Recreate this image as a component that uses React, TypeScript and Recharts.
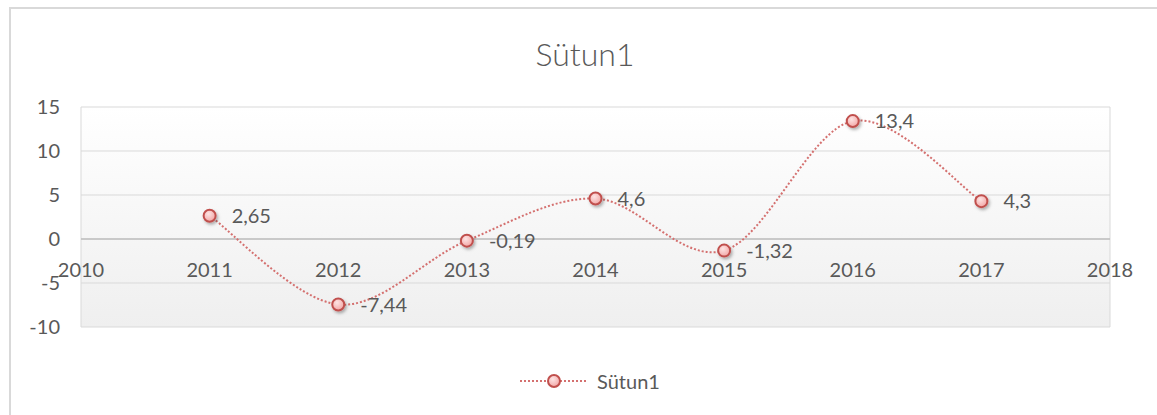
import React from "react";
import {
  CartesianGrid,
  LabelList,
  Line,
  LineChart,
  ReferenceDot,
  ReferenceLine,
  XAxis,
  YAxis,
} from "recharts";

const years = [2011, 2012, 2013, 2014, 2015, 2016, 2017];
const values = [2.65, -7.44, -0.19, 4.6, -1.32, 13.4, 4.3];
const xTicks = [2010, 2011, 2012, 2013, 2014, 2015, 2016, 2017, 2018];
const yTicks = [-10, -5, 0, 5, 10, 15];
const seriesName = "Sütun1";

const data = years.map((year, i) => ({ year, value: values[i] }));

const FONT = "Lato, 'Open Sans', sans-serif";
const TEXT = "#595959";
const LINE_COLOR = "#d4706f";
const MARKER_STROKE = "#c0504d";

// Excel-style smoothing (Catmull-Rom as cubic bezier)
function excelSmooth(context: any) {
  let pts: [number, number][] = [];
  return {
    areaStart() {},
    areaEnd() {},
    lineStart() {
      pts = [];
    },
    point(x: number, y: number) {
      pts.push([+x, +y]);
    },
    lineEnd() {
      if (!pts.length) return;
      context.moveTo(pts[0][0], pts[0][1]);
      for (let i = 0; i < pts.length - 1; i++) {
        const p0 = pts[i - 1] || pts[i];
        const p1 = pts[i];
        const p2 = pts[i + 1];
        const p3 = pts[i + 2] || p2;
        context.bezierCurveTo(
          p1[0] + (p2[0] - p0[0]) / 6,
          p1[1] + (p2[1] - p0[1]) / 6,
          p2[0] - (p3[0] - p1[0]) / 6,
          p2[1] - (p3[1] - p1[1]) / 6,
          p2[0],
          p2[1]
        );
      }
    },
  };
}

function Marker(props: any) {
  const { cx, cy } = props;
  if (cx == null || cy == null) return null;
  return (
    <circle
      cx={cx}
      cy={cy}
      r={6}
      fill="url(#markerFill)"
      stroke={MARKER_STROKE}
      strokeWidth={2}
      filter="url(#markerShadow)"
    />
  );
}

function LegendBox() {
  return (
    <div
      style={{
        position: "absolute",
        left: 0,
        top: 369,
        width: 1178,
        display: "flex",
        justifyContent: "center",
        alignItems: "center",
      }}
    >
      <svg width={72} height={20}>
        <defs>
          <radialGradient id="legendFill" cx="40%" cy="35%" r="70%">
            <stop offset="0%" stopColor="#fde4e4" />
            <stop offset="100%" stopColor="#f2a3a2" />
          </radialGradient>
        </defs>
        <line x1={2} y1={10} x2={70} y2={10} stroke={LINE_COLOR} strokeWidth={2} strokeDasharray="2 2" />
        <circle cx={36} cy={10} r={6} fill="url(#legendFill)" stroke={MARKER_STROKE} strokeWidth={2} />
      </svg>
      <span style={{ fontFamily: FONT, fontSize: 20, color: TEXT, marginLeft: 7 }}>{seriesName}</span>
    </div>
  );
}

const fmt = (v: any) => String(v).replace(".", ",");

export default function App() {
  return (
    <div style={{ position: "fixed", left: 0, top: 0, width: 1157, height: 415, background: "#fff", overflow: "hidden" }}>
      <div
        style={{
          position: "absolute",
          left: 9,
          top: 7,
          width: 1180,
          height: 440,
          border: "2px solid #d9d9d9",
        }}
      />
      <div
        style={{
          position: "absolute",
          left: 0,
          top: 34,
          width: 1170,
          textAlign: "center",
          fontFamily: FONT,
          fontSize: 32,
          fontWeight: 300,
          color: TEXT,
        }}
      >
        {seriesName}
      </div>
      <div style={{ position: "absolute", left: 0, top: 0 }}>
        <LineChart width={1157} height={415} data={data} margin={{ top: 107, right: 47, bottom: 88, left: 0 }}>
          <defs>
            <linearGradient id="plotBg" x1="0" y1="0" x2="0" y2="1">
              <stop offset="0%" stopColor="#ffffff" />
              <stop offset="100%" stopColor="#efefef" />
            </linearGradient>
            <radialGradient id="markerFill" cx="40%" cy="35%" r="70%">
              <stop offset="0%" stopColor="#fde4e4" />
              <stop offset="100%" stopColor="#f2a3a2" />
            </radialGradient>
            <filter id="markerShadow" x="-50%" y="-50%" width="200%" height="200%">
              <feDropShadow dx={1.5} dy={2} stdDeviation={1.5} floodColor="#000" floodOpacity={0.3} />
            </filter>
          </defs>
          <CartesianGrid stroke="#d9d9d9" fill="url(#plotBg)" />
          <XAxis
            dataKey="year"
            type="number"
            domain={[2010, 2018]}
            ticks={xTicks}
            tick={false}
            axisLine={false}
            tickLine={false}
            height={0}
          />
          <YAxis
            type="number"
            domain={[-10, 15]}
            ticks={yTicks}
            width={81}
            axisLine={false}
            tickLine={false}
            tickMargin={15}
            tick={{ fill: TEXT, fontSize: 20, fontFamily: FONT }}
          />
          <ReferenceLine y={0} stroke="#bfbfbf" strokeWidth={1.5} />
          {xTicks.map((t) => (
            <ReferenceDot
              key={t}
              x={t}
              y={0}
              r={0}
              fill="none"
              stroke="none"
              ifOverflow="visible"
              label={{ value: String(t), position: "bottom", offset: 24, fill: TEXT, fontSize: 20, fontFamily: FONT }}
            />
          ))}
          <Line
            dataKey="value"
            name={seriesName}
            type={excelSmooth as any}
            stroke={LINE_COLOR}
            strokeWidth={2}
            strokeDasharray="2 2"
            dot={<Marker />}
            activeDot={false}
            isAnimationActive={false}
          >
            <LabelList
              dataKey="value"
              position="right"
              offset={22}
              formatter={fmt}
              style={{ fill: TEXT, fontSize: 20, fontFamily: FONT }}
            />
          </Line>
        </LineChart>
      </div>
      <LegendBox />
    </div>
  );
}
